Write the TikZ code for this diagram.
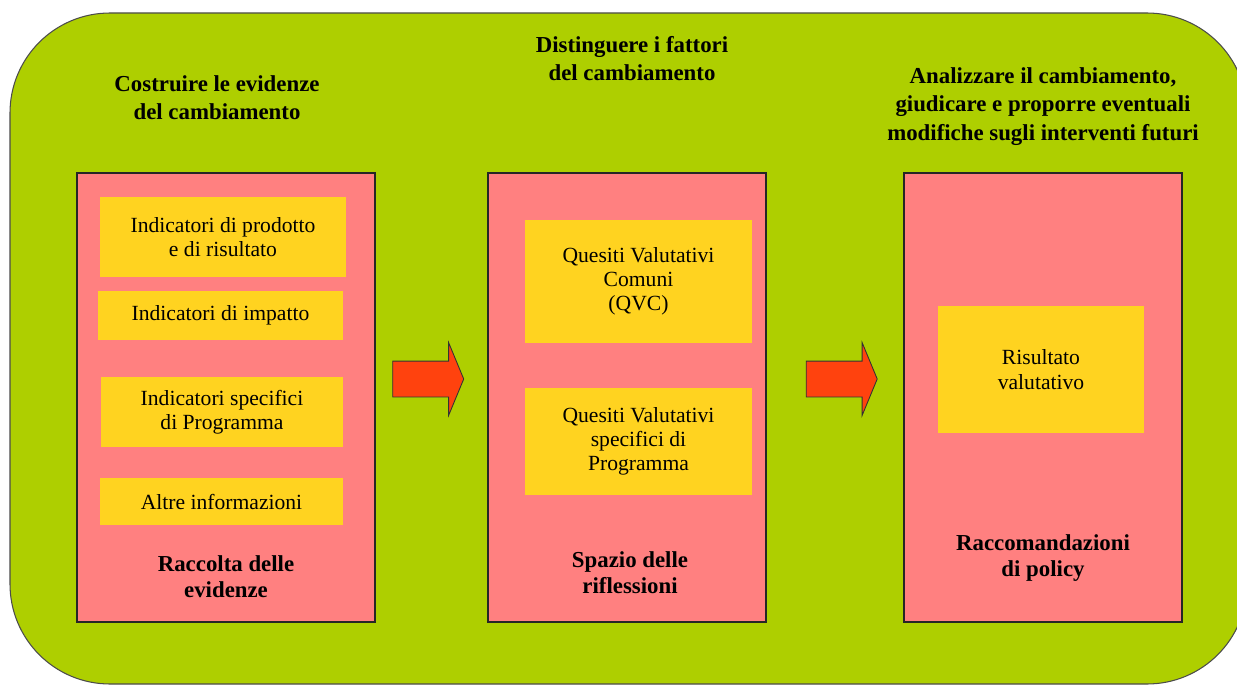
\documentclass[tikz,border=0pt]{standalone}
\usepackage{fontspec}
\setmainfont{Liberation Serif}
\usetikzlibrary{positioning,shapes.arrows}
\definecolor{leaf}{HTML}{AECF00}
\definecolor{salmon}{HTML}{FF8080}
\definecolor{sun}{HTML}{FFD320}
\definecolor{flame}{HTML}{FF420E}

\begin{document}
\begin{tikzpicture}[
    x=0.02cm, y=-0.02cm,
    panel/.style={draw=black!85, line width=0.7pt, fill=salmon,
                  minimum height=8.98cm, inner sep=0pt},
    item/.style={fill=sun, inner sep=0pt, align=center,
                 font=\fontsize{12.3}{13.8}\selectfont},
    head/.style={align=center, font=\fontsize{13}{16}\selectfont\bfseries},
    caption/.style={align=center, font=\fontsize{13}{15}\selectfont\bfseries},
    push/.style={single arrow, draw=black!80, line width=0.5pt, fill=flame,
                 inner xsep=0pt, inner ysep=0.35cm, minimum height=1.42cm,
                 single arrow head extend=0.37cm, single arrow tip angle=135},
  ]
  \useasboundingbox (0,0) rectangle (1237,686);
  \clip (0,0) rectangle (1237,686);

  % green frame
  \draw[draw=black!70, line width=0.6pt, fill=leaf, rounded corners=2cm]
    (10,13) rectangle (1247,684);

  % three panels
  \node[panel, minimum width=5.96cm] (gather) at (226,397.5) {};
  \node[panel, minimum width=5.56cm] (reflect) at (627,397.5) {};
  \node[panel, minimum width=5.56cm] (judge) at (1043,397.5) {};

  % headings above the panels
  \node[head] (h1) at (217,98) {Costruire le evidenze\\ del cambiamento};
  \node[head] (h2) at (632,58.5) {Distinguere i fattori\\ del cambiamento};
  \node[head] (h3) at (1043,106.5)
    {Analizzare il cambiamento,\\ giudicare e proporre eventuali\\
     modifiche sugli interventi futuri};

  % evidence items
  \node[item, minimum width=4.92cm, minimum height=1.6cm] (outres) at (223,237)
    {Indicatori di prodotto\\ e di risultato};
  \node[item, minimum width=4.9cm, minimum height=0.98cm] (impact) at (220.5,315.5)
    {Indicatori di impatto};
  \node[item, minimum width=4.84cm, minimum height=1.4cm] (specind) at (222,412)
    {Indicatori specifici\\ di Programma};
  \node[item, minimum width=4.86cm, minimum height=0.94cm] (other) at (221.5,501.5)
    {Altre informazioni};
  \node[caption] (cap1) at (226,577) {Raccolta delle\\ evidenze};

  % evaluation questions
  \node[item, minimum width=4.54cm, minimum height=2.46cm] (qvc) at (638.5,281.5)
    {Quesiti Valutativi\\ Comuni\\ (QVC)};
  \node[item, minimum width=4.54cm, minimum height=2.14cm] (qvs) at (638.5,441.5)
    {Quesiti Valutativi\\ specifici di\\ Programma};
  \node[caption] (cap2) at (630,573) {Spazio delle\\ riflessioni};

  % outcome
  \node[item, minimum width=4.12cm, minimum height=2.54cm] (result) at (1041,369.5)
    {Risultato\\ valutativo};
  \node[caption] (cap3) at (1043,558) {Raccomandazioni\\ di policy};

  % block arrows between panels
  \node[push] (go1) at (424.5,379) {};
  \node[push] (go2) at (838,379) {};
\end{tikzpicture}
\end{document}
